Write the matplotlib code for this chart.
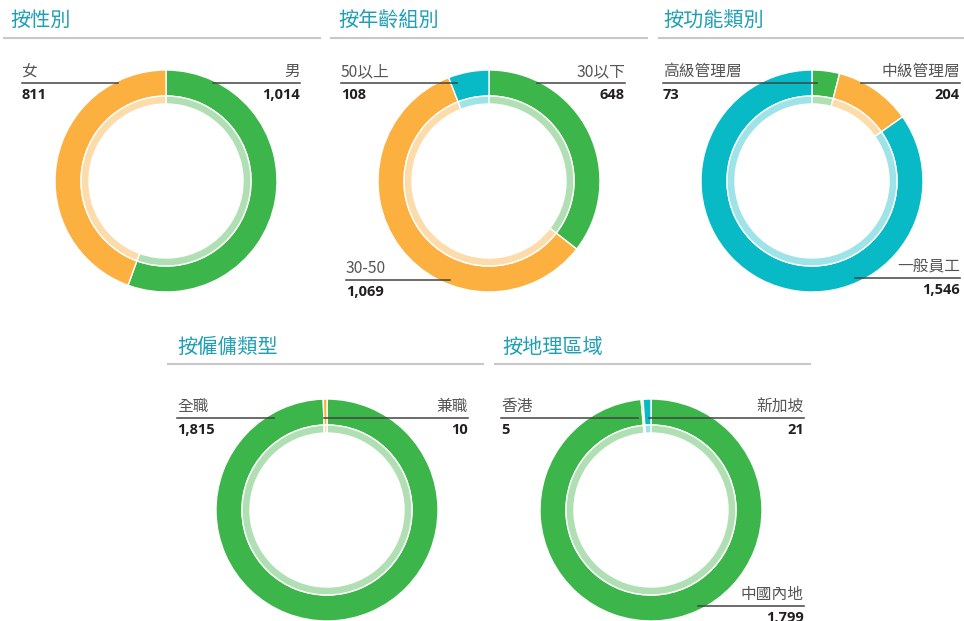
import matplotlib.pyplot as plt

plt.rcParams['font.family'] = ['Noto Sans CJK TC', 'DejaVu Sans']

W, H = 964, 621

# colours
GREEN, ORANGE, TEAL = '#3cb64a', '#fbb040', '#08b9c6'
LGREEN, LORANGE, LTEAL = '#b1dfb4', '#fddcab', '#9de3e8'
TITLE_C = '#1e9fb3'

# data
gender_labels = ['男', '女']
gender_values = [1014, 811]
age_labels = ['30以下', '30-50', '50以上']
age_values = [648, 1069, 108]
func_labels = ['高級管理層', '中級管理層', '一般員工']
func_values = [73, 204, 1546]
emp_labels = ['全職', '兼職']
emp_values = [1815, 10]
geo_labels = ['中國內地', '香港', '新加坡']
geo_values = [1799, 5, 21]

# layout (pixel coords, y down): title, labels, values, centre, title pos, rule, label spots
charts = [
    ('按性別', gender_labels, gender_values, (166, 181), (10, 20), (4, 320, 38),
     [('r', 300, 83, 213), ('l', 22, 83, 118)]),
    ('按年齡組別', age_labels, age_values, (489, 181), (338, 20), (331, 647, 38),
     [('r', 625, 83, 537), ('l', 346, 280, 450), ('l', 341, 83, 457)]),
    ('按功能類別', func_labels, func_values, (812, 181), (663, 20), (659, 963, 38),
     [('l', 663, 83, 817), ('r', 960, 83, 861), ('r', 960, 278, 855)]),
    ('按僱傭類型', emp_labels, emp_values, (327, 510), (177, 347), (168, 483, 364),
     [('l', 177, 418, 274), ('r', 468, 418, 324)]),
    ('按地理區域', geo_labels, geo_values, (651, 510), (502, 347), (495, 810, 364),
     [('r', 804, 606, 698), ('l', 501, 418, 638), ('r', 804, 418, 649)]),
]

dark = [GREEN, ORANGE, TEAL]
light = [LGREEN, LORANGE, LTEAL]

fig = plt.figure(figsize=(W / 100, H / 100), dpi=100)
ax = fig.add_axes([0, 0, 1, 1])

for title, labels, values, (cx, cy), (tx, ty), (rx0, rx1, ry), spots in charts:
    n = len(values)
    ax.pie(values, colors=dark[:n], startangle=90, counterclock=False,
           radius=111, center=(cx, H - cy),
           wedgeprops=dict(width=26, edgecolor='white', linewidth=1))
    ax.pie(values, colors=light[:n], startangle=90, counterclock=False,
           radius=85, center=(cx, H - cy),
           wedgeprops=dict(width=8, edgecolor='white', linewidth=1))

    ax.text(tx, H - ty, title, color=TITLE_C, fontsize=14.5, fontweight='medium',
            ha='left', va='center')
    ax.plot([rx0, rx1], [H - ry, H - ry], color='#c8c8c8', lw=1.5)

    for lab, val, (side, x, y, x2) in zip(labels, values, spots):
        ha = 'left' if side == 'l' else 'right'
        ax.plot([x, x2], [H - y, H - y], color='#444444', lw=1.1, zorder=5)
        ax.text(x, H - y + 3, lab, color='#555555', fontsize=11.3,
                ha=ha, va='bottom', fontweight='light')
        ax.text(x, H - y - 12, f'{val:,}', color='#231f20', fontsize=10.5,
                ha=ha, va='center', fontweight='bold',
                family=['Open Sans', 'DejaVu Sans'])

ax.set_xlim(0, W)
ax.set_ylim(0, H)
ax.set_aspect('equal')
ax.axis('off')

plt.savefig('out.png', dpi=100)
